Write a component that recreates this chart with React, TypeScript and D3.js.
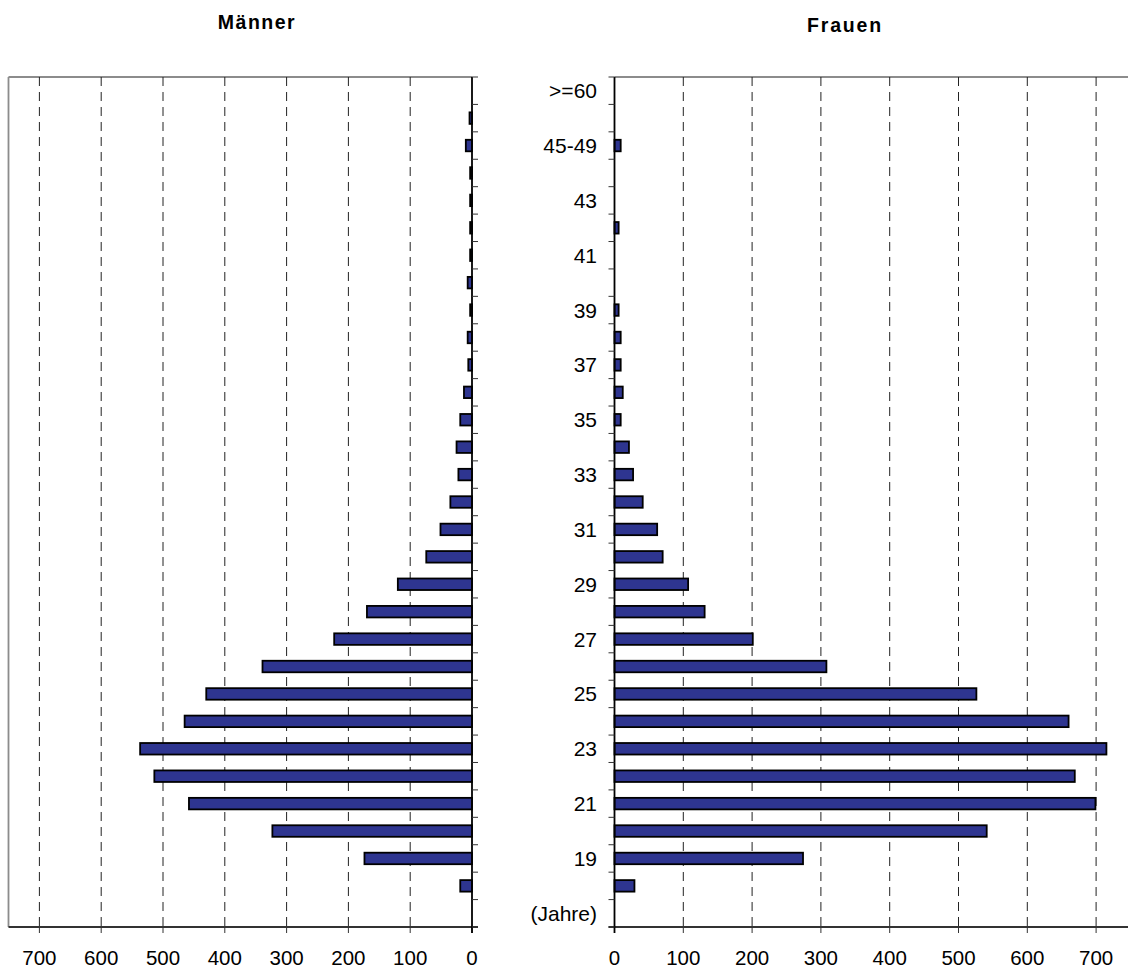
import React from 'react';
import * as d3 from 'd3';

const categories = [
  '(Jahre)', '18', '19', '20', '21', '22', '23', '24', '25', '26', '27', '28', '29', '30',
  '31', '32', '33', '34', '35', '36', '37', '38', '39', '40', '41', '42', '43', '44',
  '45-49', '50-59', '>=60',
];
const maleValues = [
  0, 19, 174, 323, 458, 514, 537, 465, 430, 339, 223, 170, 120, 74,
  51, 35, 22, 25, 19, 13, 6, 7, 3, 7, 3, 3, 3, 3,
  10, 4, 0,
];
const femaleValues = [
  0, 29, 274, 541, 699, 669, 715, 660, 526, 308, 201, 131, 107, 70,
  62, 41, 27, 21, 9, 12, 9, 9, 6, 0, 0, 6, 0, 0,
  9, 0, 0,
];
const valueTicks = [0, 100, 200, 300, 400, 500, 600, 700];
const titleMale = 'Männer';
const titleFemale = 'Frauen';

const FONT = '"Liberation Sans", Arial, sans-serif';
const BAR = '#2e3590';

export default function App() {
  const top = 77;
  const bottom = 927;
  const y = d3.scaleBand<string>().domain(categories).range([bottom, top]);
  const step = y.step();
  const bh = step * 0.42;
  const xM = d3.scaleLinear().domain([0, 750]).range([472, 8.5]);
  const xF = d3.scaleLinear().domain([0, 750]).range([614.5, 1130.5]);
  const boundaries = d3.range(categories.length + 1).map((k) => top + k * step);

  const panel = (x: d3.ScaleLinear<number, number>, values: number[], side: 'L' | 'R') => {
    const x0 = x(0);
    const xEnd = x(750);
    const tickDir = side === 'L' ? 6 : -6;
    return (
      <g>
        <line x1={Math.min(x0, xEnd)} x2={Math.max(x0, xEnd)} y1={top} y2={top} stroke="#8c8c8c" strokeWidth={1.8} />
        {side === 'L' && <line x1={xEnd} x2={xEnd} y1={top} y2={bottom} stroke="#8c8c8c" strokeWidth={1.8} />}
        {valueTicks.filter((t) => t > 0).map((t) => (
          <line key={t} x1={x(t)} x2={x(t)} y1={top} y2={bottom} stroke="#222" strokeWidth={1} strokeDasharray="9,6" />
        ))}
        {values.map((v, i) =>
          v > 0 ? (
            <rect
              key={i}
              x={Math.min(x(0), x(v))}
              width={Math.abs(x(v) - x(0))}
              y={(y(categories[i]) as number) + (step - bh) / 2}
              height={bh}
              fill={BAR}
              stroke="#000"
              strokeWidth={1.8}
            />
          ) : null
        )}
        <line x1={Math.min(xEnd, x0 + tickDir)} x2={Math.max(xEnd, x0 + tickDir)} y1={bottom} y2={bottom} stroke="#333" strokeWidth={1.8} />
        {valueTicks.map((t) => (
          <g key={t}>
            <line x1={x(t)} x2={x(t)} y1={bottom} y2={bottom + 6} stroke="#333" strokeWidth={1} />
            <text x={x(t)} y={965} textAnchor="middle" fontFamily={FONT} fontSize={20.5} fill="#000">
              {t}
            </text>
          </g>
        ))}
        <line x1={x0} x2={x0} y1={top} y2={bottom + 6} stroke="#000" strokeWidth={1.8} />
        {boundaries.map((b, k) => (
          <line key={k} x1={x0} x2={x0 + tickDir} y1={b} y2={b} stroke="#333" strokeWidth={1} />
        ))}
      </g>
    );
  };

  return (
    <svg
      width={1128}
      height={971}
      style={{ position: 'absolute', left: 0, top: 0, background: '#fff' }}
    >
      <rect x={0} y={0} width={1128} height={971} fill="#fff" />
      <text x={257} y={29} textAnchor="middle" fontFamily={FONT} fontSize={19.5} fontWeight="bold" letterSpacing={1.5}>
        {titleMale}
      </text>
      <text x={845} y={32} textAnchor="middle" fontFamily={FONT} fontSize={19.5} fontWeight="bold" letterSpacing={1.8}>
        {titleFemale}
      </text>
      {panel(xM, maleValues, 'L')}
      {panel(xF, femaleValues, 'R')}
      {categories.map((c, i) =>
        i % 2 === 0 ? (
          <text
            key={c}
            x={597}
            y={(y(c) as number) + step / 2}
            dy="0.36em"
            textAnchor="end"
            fontFamily={FONT}
            fontSize={21}
            fill="#000"
          >
            {c}
          </text>
        ) : null
      )}
    </svg>
  );
}
